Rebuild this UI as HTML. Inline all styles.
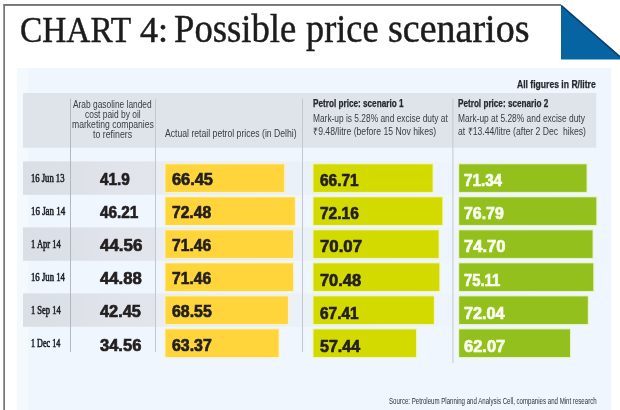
<!DOCTYPE html>
<html lang="en">
<head>
<meta charset="utf-8">
<title>CHART 4: Possible price scenarios</title>
<style>
html,body{margin:0;padding:0;background:#fff}
body{width:620px;height:410px;position:relative;overflow:hidden;font-family:"Liberation Sans",sans-serif}
.tri{position:absolute;left:0;top:0}
.t{position:absolute;white-space:pre;transform-origin:0 0;margin:0;padding:0}
</style>
</head>
<body>
<svg class="tri" width="620" height="410" viewBox="0 0 620 410"><defs><linearGradient id="bg" gradientUnits="userSpaceOnUse" x1="22.5" y1="0" x2="596.2" y2="0"><stop offset="0" stop-color="#dadfe5"/><stop offset=".08" stop-color="#dce1e7"/><stop offset=".14" stop-color="#e0e4ea"/><stop offset=".231" stop-color="#e2e6ec"/><stop offset=".233" stop-color="#e3e7ed" stop-opacity=".6"/><stop offset=".5" stop-color="#e5e9ee" stop-opacity=".4"/><stop offset=".76" stop-color="#e5e9ee" stop-opacity=".12"/><stop offset="1" stop-color="#e5e9ee" stop-opacity="0"/></linearGradient></defs>
<rect x="17" y="68" width="594.2" height="342" fill="#eff6fe"/>
<rect x="17" y="68" width="11" height="342" fill="#f3f9fd"/>
<rect x="23" y="93" width="573.2" height="54.7" fill="#dee4ea"/>
<rect x="23" y="161.4" width="573.2" height="33.4" fill="url(#bg)"/>
<rect x="23" y="227.4" width="573.2" height="33.4" fill="url(#bg)"/>
<rect x="23" y="293.4" width="573.2" height="33.4" fill="url(#bg)"/>
<rect x="70" y="98.7" width="1" height="253.3" fill="#b4b8bd"/>
<rect x="155" y="98.7" width="1" height="253.3" fill="#c3c8ce"/>
<rect x="302" y="98.7" width="1" height="253.3" fill="#c3c8ce"/>
<rect x="452.4" y="98.7" width="1" height="264.3" fill="#c3c8ce"/>
<rect x="165.5" y="164.3" width="118.613" height="27.6" fill="#ffd53b" stroke="#fff3b0" stroke-opacity=".75" stroke-width="2.2" paint-order="stroke"/>
<rect x="313.5" y="164.3" width="119.077" height="27.6" fill="#d3da00" stroke="#f3f5a0" stroke-opacity=".75" stroke-width="2.2" paint-order="stroke"/>
<rect x="459.2" y="164.3" width="127.342" height="27.6" fill="#93c01d" stroke="#e3f2b4" stroke-opacity=".75" stroke-width="2.2" paint-order="stroke"/>
<rect x="165.5" y="197.32" width="129.377" height="27.6" fill="#ffd53b" stroke="#fff3b0" stroke-opacity=".75" stroke-width="2.2" paint-order="stroke"/>
<rect x="313.5" y="197.32" width="128.806" height="27.6" fill="#d3da00" stroke="#f3f5a0" stroke-opacity=".75" stroke-width="2.2" paint-order="stroke"/>
<rect x="459.2" y="197.32" width="137.07" height="27.6" fill="#93c01d" stroke="#e3f2b4" stroke-opacity=".75" stroke-width="2.2" paint-order="stroke"/>
<rect x="165.5" y="230.34" width="127.556" height="27.6" fill="#ffd53b" stroke="#fff3b0" stroke-opacity=".75" stroke-width="2.2" paint-order="stroke"/>
<rect x="313.5" y="230.34" width="125.075" height="27.6" fill="#d3da00" stroke="#f3f5a0" stroke-opacity=".75" stroke-width="2.2" paint-order="stroke"/>
<rect x="459.2" y="230.34" width="133.339" height="27.6" fill="#93c01d" stroke="#e3f2b4" stroke-opacity=".75" stroke-width="2.2" paint-order="stroke"/>
<rect x="165.5" y="263.36" width="127.556" height="27.6" fill="#ffd53b" stroke="#fff3b0" stroke-opacity=".75" stroke-width="2.2" paint-order="stroke"/>
<rect x="313.5" y="263.36" width="125.807" height="27.6" fill="#d3da00" stroke="#f3f5a0" stroke-opacity=".75" stroke-width="2.2" paint-order="stroke"/>
<rect x="459.2" y="263.36" width="134.071" height="27.6" fill="#93c01d" stroke="#e3f2b4" stroke-opacity=".75" stroke-width="2.2" paint-order="stroke"/>
<rect x="165.5" y="296.38" width="122.362" height="27.6" fill="#ffd53b" stroke="#fff3b0" stroke-opacity=".75" stroke-width="2.2" paint-order="stroke"/>
<rect x="313.5" y="296.38" width="120.327" height="27.6" fill="#d3da00" stroke="#f3f5a0" stroke-opacity=".75" stroke-width="2.2" paint-order="stroke"/>
<rect x="459.2" y="296.38" width="128.591" height="27.6" fill="#93c01d" stroke="#e3f2b4" stroke-opacity=".75" stroke-width="2.2" paint-order="stroke"/>
<rect x="165.5" y="329.4" width="113.115" height="27.6" fill="#ffd53b" stroke="#fff3b0" stroke-opacity=".75" stroke-width="2.2" paint-order="stroke"/>
<rect x="313.5" y="329.4" width="102.53" height="27.6" fill="#d3da00" stroke="#f3f5a0" stroke-opacity=".75" stroke-width="2.2" paint-order="stroke"/>
<rect x="459.2" y="329.4" width="110.795" height="27.6" fill="#93c01d" stroke="#e3f2b4" stroke-opacity=".75" stroke-width="2.2" paint-order="stroke"/>
<rect x="3.4" y="4" width="557.6" height="1.9" fill="#757575"/>
<rect x="3.3" y="4" width="1.7" height="406" fill="#757575"/>
<polygon points="561,4.8 561,59.6 624,59.6" fill="#0764a3"/>
<line x1="561.4" y1="5.6" x2="624" y2="60.2" stroke="#0a3560" stroke-width="1.5" stroke-opacity=".85"/>
</svg>
<div class="t" style="left:20.05px;top:10.00px;font:400 35px/42px 'Liberation Serif', serif;color:#1c1c1c;transform:scaleX(0.9534);-webkit-text-stroke:0.45px #1c1c1c;">CHART</div>
<div class="t" style="left:140.30px;top:10.00px;font:400 35px/42px 'Liberation Serif', serif;color:#1c1c1c;transform:scaleX(1.0320);-webkit-text-stroke:0.45px #1c1c1c;">4:</div>
<div class="t" style="left:173.86px;top:5.00px;font:400 39px/47px 'Liberation Serif', serif;color:#1c1c1c;transform:scaleX(0.9406);-webkit-text-stroke:0.45px #1c1c1c;">Possible</div>
<div class="t" style="left:305.80px;top:5.00px;font:400 39px/47px 'Liberation Serif', serif;color:#1c1c1c;transform:scaleX(0.9299);-webkit-text-stroke:0.45px #1c1c1c;">price</div>
<div class="t" style="left:388.03px;top:5.00px;font:400 39px/47px 'Liberation Serif', serif;color:#1c1c1c;transform:scaleX(0.9748);-webkit-text-stroke:0.45px #1c1c1c;">scenarios</div>
<div class="t" style="left:517.00px;top:79.00px;font:700 10px/12px 'Liberation Sans', sans-serif;color:#26282b;transform:scaleX(0.8587);-webkit-text-stroke:0.25px #26282b;">All figures in R/litre</div>
<div class="t" style="left:73.20px;top:99.00px;font:400 10px/12px 'Liberation Sans', sans-serif;color:#3a3d42;transform:scaleX(0.8372);">Arab gasoline landed</div>
<div class="t" style="left:84.80px;top:109.00px;font:400 10px/12px 'Liberation Sans', sans-serif;color:#3a3d42;transform:scaleX(0.8409);">cost paid by oil</div>
<div class="t" style="left:71.60px;top:119.00px;font:400 10px/12px 'Liberation Sans', sans-serif;color:#3a3d42;transform:scaleX(0.8600);">marketing companies</div>
<div class="t" style="left:93.30px;top:129.00px;font:400 10px/12px 'Liberation Sans', sans-serif;color:#3a3d42;transform:scaleX(0.8795);">to refiners</div>
<div class="t" style="left:165.30px;top:128.00px;font:400 10px/12px 'Liberation Sans', sans-serif;color:#3a3d42;transform:scaleX(0.8645);">Actual retail petrol prices (in Delhi)</div>
<div class="t" style="left:312.90px;top:98.00px;font:700 10px/12px 'Liberation Sans', sans-serif;color:#26282b;transform:scaleX(0.8180);-webkit-text-stroke:0.25px #26282b;">Petrol price: scenario 1</div>
<div class="t" style="left:312.90px;top:113.00px;font:400 10px/12px 'Liberation Sans', sans-serif;color:#3a3d42;transform:scaleX(0.8364);">Mark-up is 5.28% and excise duty at</div>
<div class="t" style="left:312.90px;top:126.00px;font:400 10px/12px 'Liberation Sans', sans-serif;color:#3a3d42;transform:scaleX(0.8629);">₹9.48/litre (before 15 Nov hikes)</div>
<div class="t" style="left:457.80px;top:98.00px;font:700 10px/12px 'Liberation Sans', sans-serif;color:#26282b;transform:scaleX(0.8162);-webkit-text-stroke:0.25px #26282b;">Petrol price: scenario 2</div>
<div class="t" style="left:457.80px;top:113.00px;font:400 10px/12px 'Liberation Sans', sans-serif;color:#3a3d42;transform:scaleX(0.8391);">Mark-up at 5.28% and excise duty</div>
<div class="t" style="left:457.80px;top:126.00px;font:400 10px/12px 'Liberation Sans', sans-serif;color:#3a3d42;transform:scaleX(0.8628);">at ₹13.44/litre (after 2 Dec  hikes)</div>
<div class="t" style="left:388.50px;top:396.00px;font:400 9px/11px 'Liberation Sans', sans-serif;color:#2e3136;transform:scaleX(0.6781);">Source: Petroleum Planning and Analysis Cell, companies and Mint research</div>
<div class="t" style="left:30.80px;top:171.00px;font:400 12px/14px 'Liberation Serif', serif;color:#202226;transform:scaleX(0.7170);-webkit-text-stroke:0.6px #202226;">16 Jun 13</div>
<div class="t" style="left:100.20px;top:170.00px;font:700 17px/20px 'Liberation Sans', sans-serif;color:#231f20;transform:scaleX(0.9030);-webkit-text-stroke:0.7px #231f20;">41.9</div>
<div class="t" style="left:171.60px;top:170.00px;font:700 17px/20px 'Liberation Sans', sans-serif;color:#231f20;transform:scaleX(0.9628);-webkit-text-stroke:0.7px #231f20;">66.45</div>
<div class="t" style="left:319.60px;top:171.00px;font:700 17px/20px 'Liberation Sans', sans-serif;color:#231f20;transform:scaleX(0.9070);-webkit-text-stroke:0.7px #231f20;">66.71</div>
<div class="t" style="left:464.10px;top:171.00px;font:700 17px/20px 'Liberation Sans', sans-serif;color:#fafff0;transform:scaleX(0.8953);-webkit-text-stroke:0.7px #fafff0;">71.34</div>
<div class="t" style="left:30.80px;top:204.00px;font:400 12px/14px 'Liberation Serif', serif;color:#202226;transform:scaleX(0.7435);-webkit-text-stroke:0.6px #202226;">16 Jan 14</div>
<div class="t" style="left:100.20px;top:203.00px;font:700 17px/20px 'Liberation Sans', sans-serif;color:#231f20;transform:scaleX(0.9023);-webkit-text-stroke:0.7px #231f20;">46.21</div>
<div class="t" style="left:172.30px;top:203.00px;font:700 17px/20px 'Liberation Sans', sans-serif;color:#231f20;transform:scaleX(0.9186);-webkit-text-stroke:0.7px #231f20;">72.48</div>
<div class="t" style="left:320.30px;top:204.00px;font:700 17px/20px 'Liberation Sans', sans-serif;color:#231f20;transform:scaleX(0.9119);-webkit-text-stroke:0.7px #231f20;">72.16</div>
<div class="t" style="left:464.10px;top:204.00px;font:700 17px/20px 'Liberation Sans', sans-serif;color:#fafff0;transform:scaleX(0.9349);-webkit-text-stroke:0.7px #fafff0;">76.79</div>
<div class="t" style="left:30.80px;top:237.00px;font:400 12px/14px 'Liberation Serif', serif;color:#202226;transform:scaleX(0.7071);-webkit-text-stroke:0.6px #202226;">1 Apr 14</div>
<div class="t" style="left:100.20px;top:236.00px;font:700 17px/20px 'Liberation Sans', sans-serif;color:#231f20;transform:scaleX(0.9952);-webkit-text-stroke:0.7px #231f20;">44.56</div>
<div class="t" style="left:172.30px;top:236.00px;font:700 17px/20px 'Liberation Sans', sans-serif;color:#231f20;transform:scaleX(0.9190);-webkit-text-stroke:0.7px #231f20;">71.46</div>
<div class="t" style="left:320.30px;top:237.00px;font:700 17px/20px 'Liberation Sans', sans-serif;color:#231f20;transform:scaleX(0.9881);-webkit-text-stroke:0.7px #231f20;">70.07</div>
<div class="t" style="left:464.10px;top:237.00px;font:700 17px/20px 'Liberation Sans', sans-serif;color:#fafff0;transform:scaleX(0.9762);-webkit-text-stroke:0.7px #fafff0;">74.70</div>
<div class="t" style="left:30.80px;top:270.00px;font:400 12px/14px 'Liberation Serif', serif;color:#202226;transform:scaleX(0.7277);-webkit-text-stroke:0.6px #202226;">16 Jun 14</div>
<div class="t" style="left:100.20px;top:269.00px;font:700 17px/20px 'Liberation Sans', sans-serif;color:#231f20;transform:scaleX(0.9837);-webkit-text-stroke:0.7px #231f20;">44.88</div>
<div class="t" style="left:172.30px;top:269.00px;font:700 17px/20px 'Liberation Sans', sans-serif;color:#231f20;transform:scaleX(0.9190);-webkit-text-stroke:0.7px #231f20;">71.46</div>
<div class="t" style="left:320.30px;top:271.00px;font:700 17px/20px 'Liberation Sans', sans-serif;color:#231f20;transform:scaleX(0.9651);-webkit-text-stroke:0.7px #231f20;">70.48</div>
<div class="t" style="left:464.10px;top:271.00px;font:700 17px/20px 'Liberation Sans', sans-serif;color:#fafff0;transform:scaleX(0.8714);-webkit-text-stroke:0.7px #fafff0;">75.11</div>
<div class="t" style="left:30.80px;top:303.00px;font:400 12px/14px 'Liberation Serif', serif;color:#202226;transform:scaleX(0.7071);-webkit-text-stroke:0.6px #202226;">1 Sep 14</div>
<div class="t" style="left:100.20px;top:302.00px;font:700 17px/20px 'Liberation Sans', sans-serif;color:#231f20;transform:scaleX(0.9605);-webkit-text-stroke:0.7px #231f20;">42.45</div>
<div class="t" style="left:171.60px;top:302.00px;font:700 17px/20px 'Liberation Sans', sans-serif;color:#231f20;transform:scaleX(0.9349);-webkit-text-stroke:0.7px #231f20;">68.55</div>
<div class="t" style="left:319.60px;top:304.00px;font:700 17px/20px 'Liberation Sans', sans-serif;color:#231f20;transform:scaleX(0.9070);-webkit-text-stroke:0.7px #231f20;">67.41</div>
<div class="t" style="left:464.10px;top:304.00px;font:700 17px/20px 'Liberation Sans', sans-serif;color:#fafff0;transform:scaleX(0.9535);-webkit-text-stroke:0.7px #fafff0;">72.04</div>
<div class="t" style="left:30.80px;top:336.00px;font:400 12px/14px 'Liberation Serif', serif;color:#202226;transform:scaleX(0.6750);-webkit-text-stroke:0.6px #202226;">1 Dec 14</div>
<div class="t" style="left:100.20px;top:336.00px;font:700 17px/20px 'Liberation Sans', sans-serif;color:#231f20;transform:scaleX(0.9714);-webkit-text-stroke:0.7px #231f20;">34.56</div>
<div class="t" style="left:171.60px;top:336.00px;font:700 17px/20px 'Liberation Sans', sans-serif;color:#231f20;transform:scaleX(0.9357);-webkit-text-stroke:0.7px #231f20;">63.37</div>
<div class="t" style="left:319.60px;top:337.00px;font:700 17px/20px 'Liberation Sans', sans-serif;color:#231f20;transform:scaleX(0.9442);-webkit-text-stroke:0.7px #231f20;">57.44</div>
<div class="t" style="left:463.60px;top:337.00px;font:700 17px/20px 'Liberation Sans', sans-serif;color:#fafff0;transform:scaleX(0.9690);-webkit-text-stroke:0.7px #fafff0;">62.07</div>
</body>
</html>
